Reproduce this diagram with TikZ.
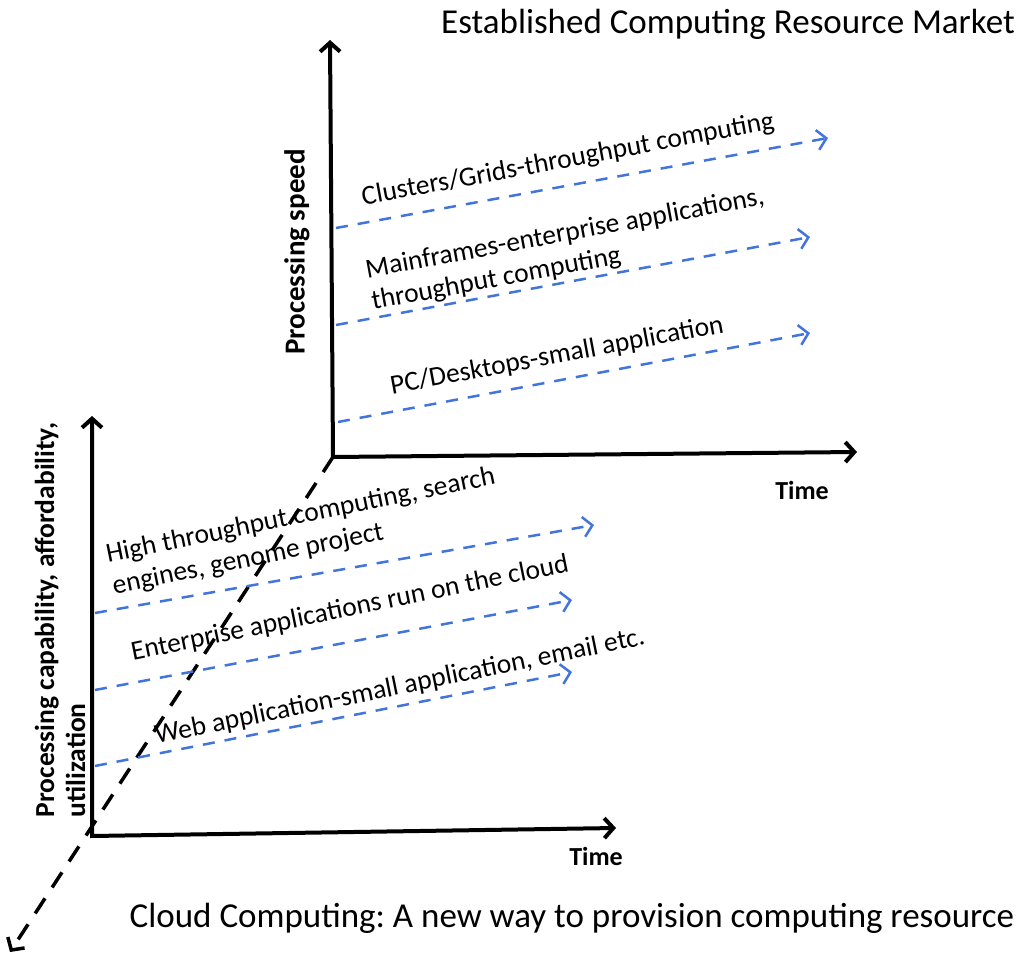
\documentclass[tikz,border=0pt]{standalone}
\usepackage{fontspec}
\setmainfont{Carlito}
\usetikzlibrary{arrows.meta,positioning}

\definecolor{trendblue}{RGB}{66,116,220}
\frenchspacing

\begin{document}
\begin{tikzpicture}[
    x = 1pt, y = -1pt, % one unit per pixel of the picture
    > = {Straight Barb[length=9pt,width=20pt]}, % arrow head style
    axis/.style = {<->, line width=4pt},
    trend/.style = {->, trendblue, line width=2.5pt, dash pattern=on 12pt off 10pt},
    depth/.style = {->, line width=3.5pt, dash pattern=on 18pt off 13pt},
    ]

    \tikzset{
    title/.style = {font=\fontsize{35}{40}\selectfont},
    axislabel/.style = {font=\bfseries\fontsize{26}{31}\selectfont, align=left},
    trendlabel/.style = {font=\fontsize{27.5}{32}\selectfont, align=left, inner sep=0pt}
    }
    \useasboundingbox (0,0) rectangle (1029,957);

    % established market
    \coordinate (o1) at (333,457);
    \coordinate (y1) at (330,40);
    \coordinate (x1) at (857,452);
    \draw[axis] (y1) -- (o1) -- (x1);
    \node[title] (market) at (728,24) {Established Computing Resource Market};
    \node[axislabel, rotate=90, font=\bfseries\fontsize{29}{34}\selectfont] (speed) at (297,252) {Processing speed};
    \node[axislabel] (time1) at (802,490) {Time};

    \coordinate (clusters start) at (336,228);
    \coordinate (clusters end) at (828,138);
    \coordinate (mainframes start) at (336,325);
    \coordinate (mainframes end) at (810,237);
    \coordinate (pc start) at (338,422);
    \coordinate (pc end) at (810,333);
    \draw[trend] (clusters start) -- (clusters end);
    \draw[trend] (mainframes start) -- (mainframes end);
    \draw[trend] (pc start) -- (pc end);
    \node[trendlabel, rotate=10.5] (clusters) at (568,160) {Clusters/Grids-throughput computing};
    \node[trendlabel, rotate=10.5] (mainframes) at (568,250) {Mainframes-enterprise applications,\\throughput computing};
    \node[trendlabel, rotate=10.5] (pc) at (557,356) {PC/Desktops-small application};

    % cloud computing
    \coordinate (o2) at (92,836);
    \coordinate (y2) at (92,416);
    \coordinate (x2) at (616,828);
    \coordinate (d) at (10,952);
    \draw[axis] (y2) -- (o2) -- (x2);
    \draw[depth] (o1) -- (d);
    \node[title] (cloud) at (572,918) {Cloud Computing: A new way to provision computing resource};
    \node[axislabel, rotate=90, font=\bfseries\fontsize{27.5}{31}\selectfont] (capability) at (60,620) {Processing capability, affordability,\\utilization};
    \node[axislabel] (time2) at (596,856) {Time};

    \coordinate (high start) at (95,613);
    \coordinate (high end) at (594,525);
    \coordinate (enterprise start) at (95,690);
    \coordinate (enterprise end) at (572,600);
    \coordinate (web start) at (95,766);
    \coordinate (web end) at (572,672);
    \draw[trend] (high start) -- (high end);
    \draw[trend] (enterprise start) -- (enterprise end);
    \draw[trend] (web start) -- (web end);
    \node[trendlabel, rotate=11.5] (high) at (304,532) {High throughput computing, search\\engines, genome project};
    \node[trendlabel, rotate=11.5] (enterprise) at (350,609) {Enterprise applications run on the cloud};
    \node[trendlabel, rotate=11.5] (web) at (400,687) {Web application-small application, email etc.};
\end{tikzpicture}
\end{document}
